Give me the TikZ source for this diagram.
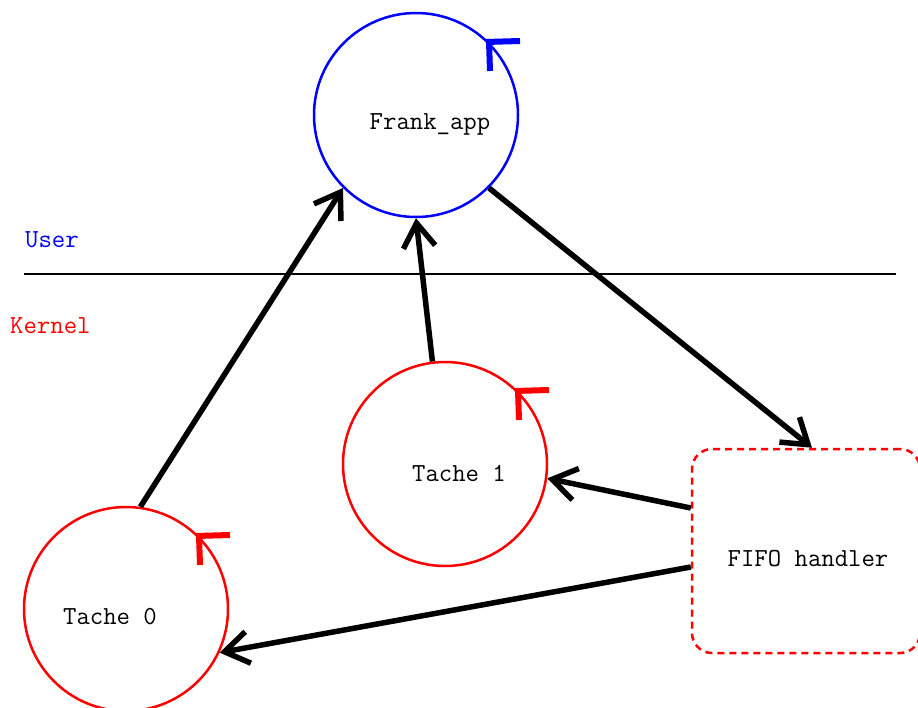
\documentclass[tikz,border=0pt]{standalone}
\usetikzlibrary{arrows.meta}

\tikzset{
  task/.style={circle,draw=red,line width=2.5pt,minimum size=204pt,inner sep=0pt},
  tasktext/.style={font=\ttfamily\fontsize{26}{30}\selectfont,inner sep=0pt},
  flow/.style={line width=5.5pt,-{Straight Barb[length=24pt,width=32pt,line width=5.5pt]}},
  turn/.style={line width=6pt}
}

\begin{document}
\begin{tikzpicture}[x=1pt,y=-1pt]
\useasboundingbox (0,0) rectangle (918,707);

% user / kernel border
\draw[line width=2.5pt] (24,274) -- (896,274);
\node[tasktext,text=blue,anchor=west] (user) at (25,240) {User};
\node[tasktext,text=red,anchor=west] (kernel) at (10,326) {Kernel};

% processes
\node[task,draw=blue] (frank) at (416,115) {};
\node[task] (tache1) at (445,464) {};
\node[task] (tache0) at (126,609) {};
\node[draw=red,line width=2.5pt,dash pattern=on 7pt off 5pt,rounded corners=20pt,
      minimum width=228pt,minimum height=204pt] (fifo) at (806,551) {};

\node[tasktext] (frank-txt) at (430,124) {Frank\_app};
\node[tasktext] (tache1-txt) at (459,473) {Tache 1};
\node[tasktext] (tache0-txt) at (110,617) {Tache 0};
\node[tasktext] (fifo-txt) at (808,559) {FIFO handler};

% rotation marks
\foreach \p/\c in {frank/blue,tache1/red,tache0/red}{
  \draw[turn,draw=\c] ([xshift=-3pt]\p.45) -- ++(34,-1);
  \draw[turn,draw=\c] (\p.45) -- ++(1,29);
}

% messages
\draw[flow] (tache0.82) -- (frank.225);
\draw[flow] (tache1.97) -- (frank.270);
\draw[flow] (frank.-45) -- ([xshift=6pt]fifo.north);
\draw[flow] ([yshift=43pt]fifo.west) -- (tache1.-8);
\draw[flow] ([yshift=-16pt]fifo.west) -- (tache0.-25);
\end{tikzpicture}
\end{document}
